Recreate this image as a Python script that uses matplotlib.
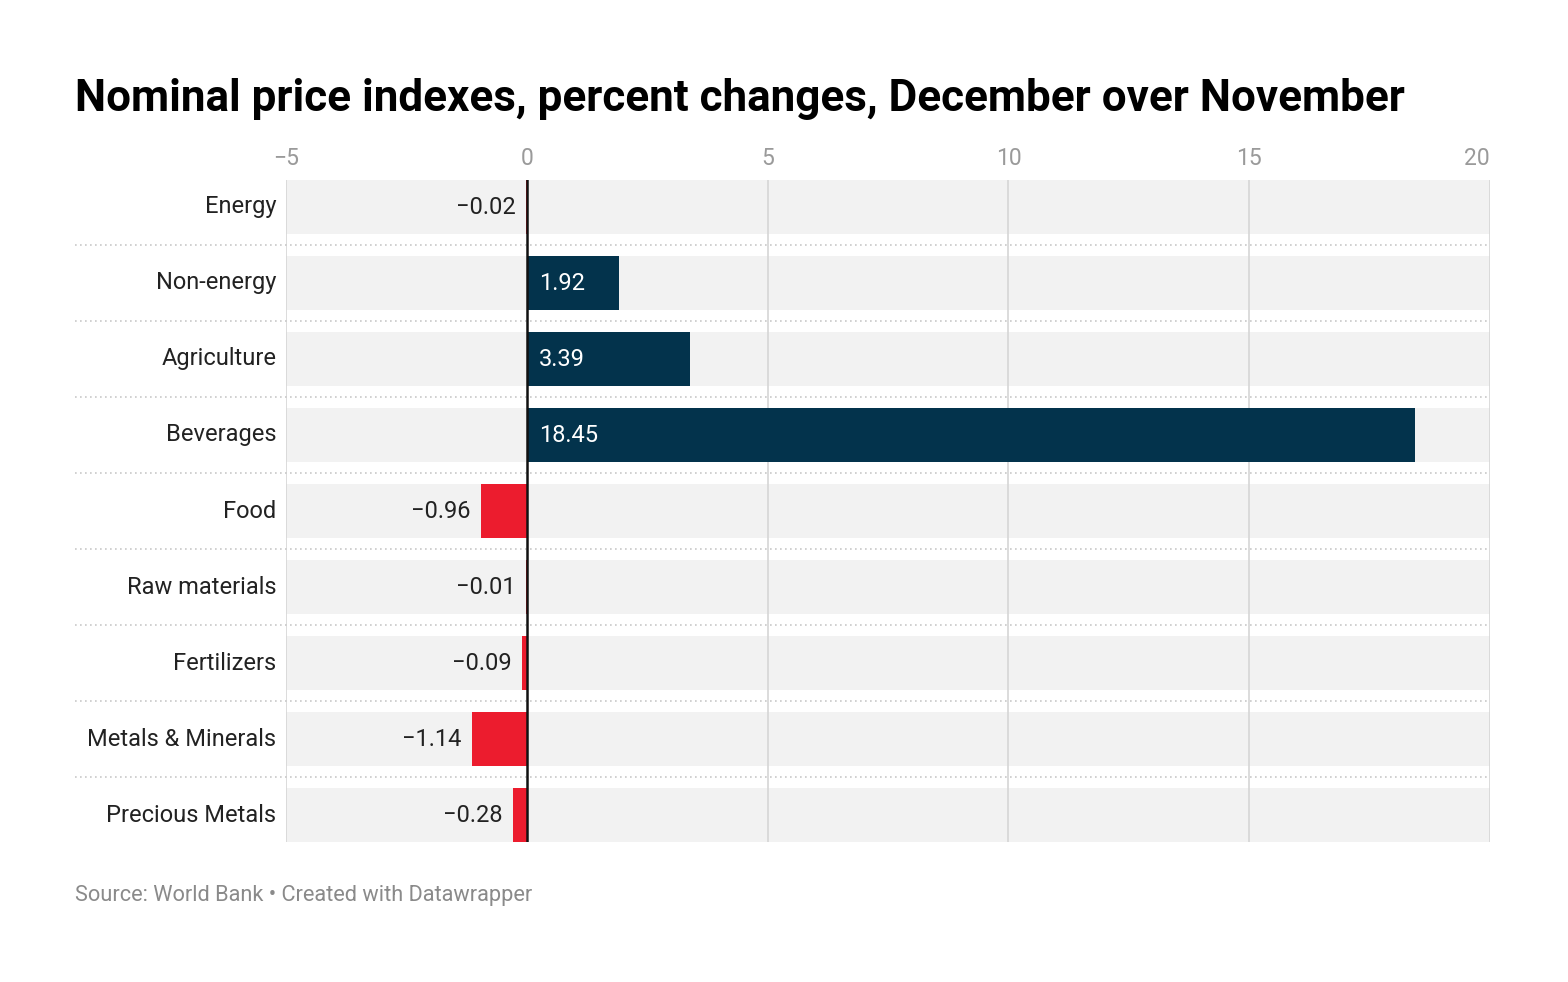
import matplotlib
matplotlib.use("Agg")
import matplotlib.pyplot as plt

plt.rcParams['font.family'] = ['Roboto', 'DejaVu Sans']

categories = ["Energy", "Non-energy", "Agriculture", "Beverages", "Food",
              "Raw materials", "Fertilizers", "Metals & Minerals", "Precious Metals"]
values = [-0.02, 1.92, 3.39, 18.45, -0.96, -0.01, -0.09, -1.14, -0.28]
labels = ["\u22120.02", "1.92", "3.39", "18.45", "\u22120.96",
          "\u22120.01", "\u22120.09", "\u22121.14", "\u22120.28"]
ticks = [-5, 0, 5, 10, 15, 20]
tick_labels = ["\u22125", "0", "5", "10", "15", "20"]

navy = "#03334c"
red = "#ec1c2e"
band = "#f2f2f2"

W, H = 1568, 982
fig = plt.figure(figsize=(W / 100, H / 100), dpi=100)
ax = fig.add_axes([286 / W, (H - 842) / H, 1204 / W, 662 / H])

bh = 54 / 76
n = len(categories)
ys = list(range(n))

# background bands
ax.barh(ys, [25] * n, left=-5, height=bh, color=band, zorder=0)

# vertical grid
for t in ticks:
    if t == 0:
        continue
    ax.axvline(t, color="#d6d6d6", lw=1.2, zorder=1)

# bars
colors = [navy if v > 0 else red for v in values]
ax.barh(ys, values, height=bh, color=colors, zorder=2)
ax.axvline(0, color="#111111", lw=1.8, zorder=3)

# dotted separators, reaching under the category labels
for i in range(n - 1):
    ax.axhline(i + 0.5, xmin=(75 - 286) / 1204, xmax=1, color="#c8c8c8",
               lw=1.2, ls=(0, (1, 2)), clip_on=False, zorder=1)

# value labels
for y, v, lab in zip(ys, values, labels):
    if v > 0:
        ax.annotate(lab, (0, y), xytext=(8.5, 1.2), textcoords="offset points",
                    ha="left", va="center_baseline", color="white", fontsize=17, zorder=4)
    else:
        ax.annotate(lab, (v, y), xytext=(-7.5, 1.2), textcoords="offset points",
                    ha="right", va="center_baseline", color="#222222", fontsize=17, zorder=4)

ax.set_xlim(-5, 20)
ax.set_ylim(n - 1 + bh / 2, -bh / 2)
ax.set_yticks(ys)
ax.set_yticklabels(categories, fontsize=17, color="#222222", va="center")
ax.tick_params(axis="y", length=0, pad=7)
ax.xaxis.tick_top()
ax.set_xticks(ticks)
ax.set_xticklabels(tick_labels, fontsize=16.5, color="#9a9a9a")
ax.tick_params(axis="x", length=0, pad=7.5)
ax.get_xticklabels()[-1].set_horizontalalignment("right")
for s in ax.spines.values():
    s.set_visible(False)

fig.text(75 / W, 1 - 99 / H, "Nominal price indexes, percent changes, December over November",
         fontsize=31.7, fontweight="bold", color="#000000", ha="left", va="center")
fig.text(75 / W, 1 - 895 / H, "Source: World Bank \u2022 Created with Datawrapper",
         fontsize=15.7, color="#8a8a8a", ha="left", va="center")

fig.savefig("out.png", dpi=100)
